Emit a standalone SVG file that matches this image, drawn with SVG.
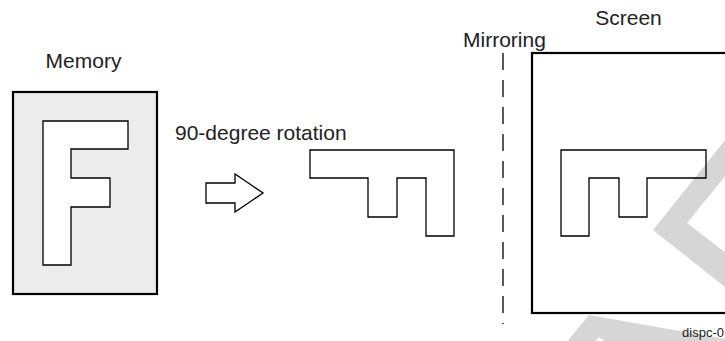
<svg xmlns="http://www.w3.org/2000/svg" width="725" height="341" viewBox="0 0 725 341">
<style>
.t{font-family:"Liberation Sans",Arial,sans-serif;font-size:21px;fill:#222}
.s{font-family:"Liberation Sans",Arial,sans-serif;font-size:13px;fill:#222}
.box{stroke:#000;stroke-width:2.2;}
.ol{fill:none;stroke:#000;stroke-width:1.3;stroke-linejoin:miter}
.wm{fill:#d6d6d6;stroke:none}
</style>
<g id="watermark">
<polygon class="wm" points="730,134 653,230 730,291 730,256 687,223 730,170"/>
<polygon class="wm" points="566,343 589,315 730,340 730,345 610,345 599,337 592,345"/>
</g>
<g id="memory">
<text class="t" x="83.5" y="68" text-anchor="middle">Memory</text>
<rect class="box" x="13" y="92" width="144" height="202" fill="#ececec"/>
<path class="ol" fill="#fff" style="fill:#fff" d="M43,121 H128 V149 H71 V178 H110 V207 H71 V265 H43 Z"/>
</g>
<g id="rotation">
<text class="t" x="175" y="140">90-degree rotation</text>
<path class="ol" style="fill:#fff" d="M206,183 H235 V174 L263,193 L235,212 V203 H206 Z"/>
<path class="ol" d="M310,150 H454 V236 H426 V178 H397 V217 H368 V178 H310 Z"/>
</g>
<g id="mirroring">
<text class="t" x="463" y="47">Mirroring</text>
<line x1="503" y1="53" x2="503" y2="324" stroke="#000" stroke-width="1.3" stroke-dasharray="17 10"/>
</g>
<g id="screen">
<text class="t" x="628.5" y="25" text-anchor="middle">Screen</text>
<rect class="box" x="532" y="53" width="200" height="260" fill="none"/>
<path class="ol" d="M561,150 H706 V178 H647 V217 H619 V178 H589 V236 H561 Z"/>
</g>
<text class="s" x="724" y="337" text-anchor="end">dispc-0</text>
</svg>
